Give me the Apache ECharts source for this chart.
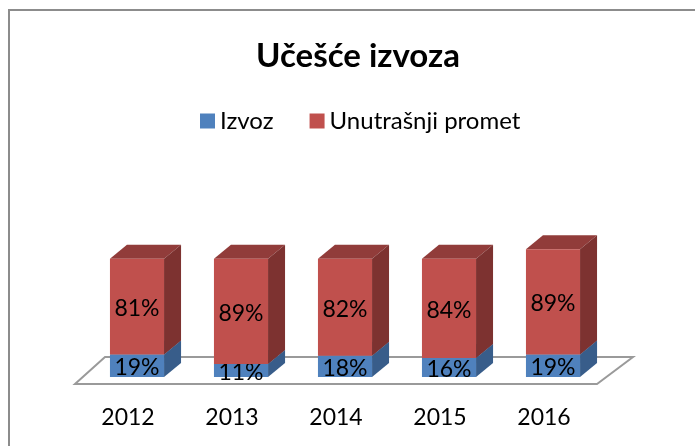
<!DOCTYPE html>
<html>
<head>
<meta charset="utf-8">
<script src="https://cdn.jsdelivr.net/npm/echarts@6/dist/echarts.min.js"></script>
<style>
  html, body { margin: 0; padding: 0; background: #fff; }
  #main { width: 695px; height: 446px; }
</style>
</head>
<body>
<div id="main"></div>
<script>
var years = ['2012', '2013', '2014', '2015', '2016'];
var izvoz = [19, 11, 18, 16, 19];
var unutrasnji = [81, 89, 82, 84, 89];

var FONT = 'Lato';
var DX = 17, DY = 14;

var chart = echarts.init(document.getElementById('main'));

function makeRender(color, sideColor, topColor) {
  return function (params, api) {
    var i = api.value(0);
    var c0 = api.coord([i, api.value(1)]);
    var c1 = api.coord([i, api.value(2)]);
    var bw = api.size([1, 0])[0] * 0.52;
    var x0 = c0[0] - bw / 2;
    var x1 = x0 + bw;
    return {
      type: 'group',
      children: [{
        type: 'polygon',
        shape: { points: [[x0, c1[1]], [x0 + DX, c1[1] - DY], [x1 + DX, c1[1] - DY], [x1, c1[1]]] },
        style: { fill: topColor }
      }, {
        type: 'polygon',
        shape: { points: [[x1, c1[1]], [x1 + DX, c1[1] - DY], [x1 + DX, c0[1] - DY], [x1, c0[1]]] },
        style: { fill: sideColor }
      }, {
        type: 'rect',
        shape: { x: x0, y: c1[1], width: bw, height: c0[1] - c1[1] },
        style: { fill: color }
      }, {
        type: 'text',
        style: {
          text: api.value(3) + '%',
          x: x0 + bw / 2,
          y: (c0[1] + c1[1]) / 2 + 2,
          align: 'center',
          verticalAlign: 'middle',
          fontSize: 23,
          fontFamily: FONT,
          fill: '#000'
        }
      }]
    };
  };
}

var izvozData = [], unutrData = [];
for (var i = 0; i < years.length; i++) {
  izvozData.push([i, 0, izvoz[i], izvoz[i]]);
  unutrData.push([i, izvoz[i], izvoz[i] + unutrasnji[i], unutrasnji[i]]);
}

var option = {
  backgroundColor: '#fff',
  animation: false,
  title: {
    text: 'Učešće izvoza',
    left: 251,
    top: 35,
    textStyle: { fontSize: 33, fontWeight: 'bold', color: '#000', fontFamily: FONT }
  },
  legend: {
    left: 195,
    top: 104,
    icon: 'rect',
    itemWidth: 15,
    itemHeight: 15,
    itemGap: 36,
    textStyle: { fontSize: 24, color: '#000', fontFamily: FONT },
    data: ['Izvoz', 'Unutrašnji promet']
  },
  grid: { left: 85, right: 90, top: 235, bottom: 69 },
  xAxis: {
    type: 'category',
    data: years,
    axisLine: { show: false },
    axisTick: { show: false },
    axisLabel: {
      margin: 29,
      fontSize: 23,
      color: '#000',
      fontFamily: FONT,
      padding: [0, 18, 0, 0]
    }
  },
  yAxis: {
    type: 'value',
    min: 0,
    max: 120,
    show: false
  },
  graphic: [{
    type: 'rect',
    shape: { x: 9, y: 10, width: 700, height: 450 },
    style: { fill: null, stroke: '#8c8c8c', lineWidth: 2 },
    silent: true
  }],
  series: [{
    type: 'custom',
    name: 'floor',
    data: [[0]],
    z: 1,
    silent: true,
    renderItem: function (params, api) {
      var cs = params.coordSys;
      var base = api.coord([0, 0])[1];
      var xl = cs.x, xr = cs.x + cs.width;
      return {
        type: 'polygon',
        shape: { points: [[xl - 10, base + 7], [xr - 8, base + 7], [xr + 28, base - 20], [xl + 20, base - 20]] },
        style: { fill: '#fff', stroke: '#9a9a9a', lineWidth: 2 }
      };
    }
  }, {
    type: 'custom',
    name: 'Izvoz',
    data: izvozData,
    z: 2,
    itemStyle: { color: '#4f81bd' },
    renderItem: makeRender('#4f81bd', '#385d8a', '#42709f')
  }, {
    type: 'custom',
    name: 'Unutrašnji promet',
    data: unutrData,
    z: 3,
    itemStyle: { color: '#c0504d' },
    renderItem: makeRender('#c0504d', '#7d3230', '#913c3a')
  }]
};

chart.setOption(option);
</script>
</body>
</html>
